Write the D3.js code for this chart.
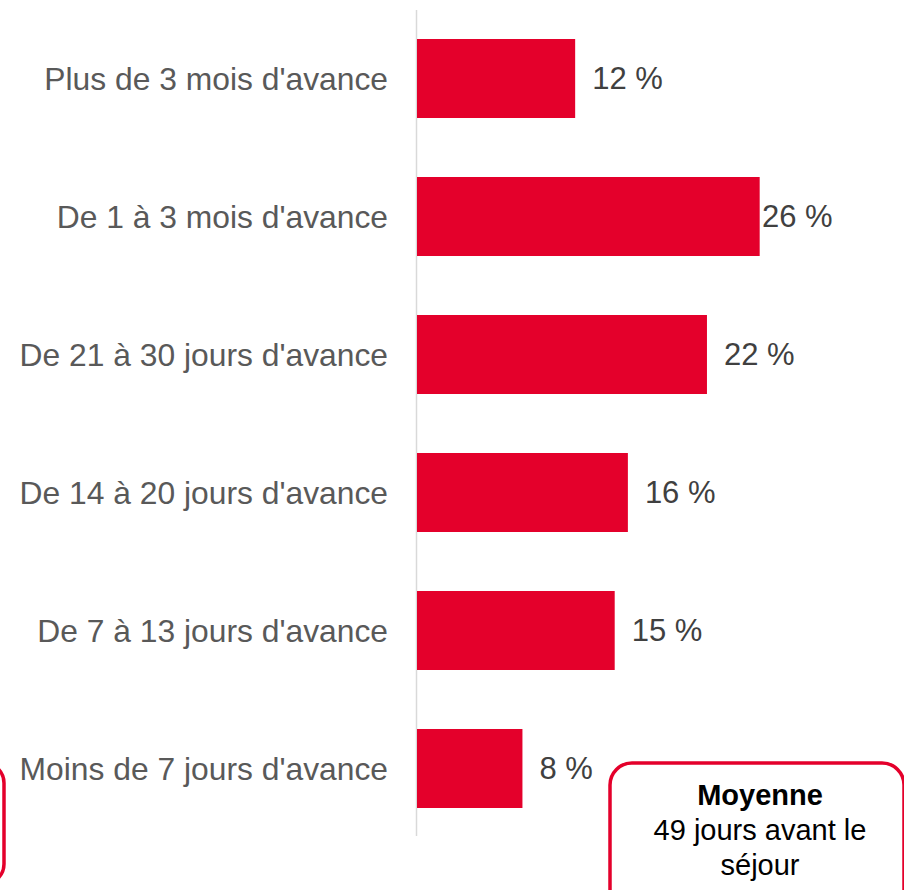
<!DOCTYPE html>
<html>
<head>
<meta charset="utf-8">
<script src="https://cdn.jsdelivr.net/npm/d3@7"></script>
<style>
  body { margin: 0; background: #fff; }
  svg { display: block; font-family: "Liberation Sans", Arial, sans-serif; }
</style>
</head>
<body>
<div id="chart"></div>
<script>
const categories = [
  "Plus de 3 mois d'avance",
  "De 1 à 3 mois d'avance",
  "De 21 à 30 jours d'avance",
  "De 14 à 20 jours d'avance",
  "De 7 à 13 jours d'avance",
  "Moins de 7 jours d'avance"
];
const values = [12, 26, 22, 16, 15, 8];
const noteTitle = "Moyenne";
const noteLines = ["49 jours avant le", "séjour"];

const width = 904, height = 890;
const red = "#e4002b";

const svg = d3.select("#chart")
  .append("svg")
  .attr("width", width)
  .attr("height", height);

const x = d3.scaleLinear().domain([0, 1]).range([417, 417 + 1318]);
const y = d3.scaleBand()
  .domain(categories)
  .range([39, 808])
  .paddingInner(0.4275)
  .paddingOuter(0);

// axis line
svg.append("line")
  .attr("x1", 416.5).attr("x2", 416.5)
  .attr("y1", 10).attr("y2", 836)
  .attr("stroke", "#d9d9d9")
  .attr("stroke-width", 1.5);

// bars
svg.selectAll("rect.bar")
  .data(values)
  .enter()
  .append("rect")
  .attr("class", "bar")
  .attr("x", x(0))
  .attr("y", (d, i) => y(categories[i]))
  .attr("width", d => x(d / 100) - x(0))
  .attr("height", y.bandwidth())
  .attr("fill", red);

// category labels
svg.selectAll("text.cat")
  .data(categories)
  .enter()
  .append("text")
  .attr("class", "cat")
  .text(d => d)
  .attr("x", 388)
  .attr("y", d => y(d) + y.bandwidth() / 2)
  .attr("dy", "0.35em")
  .attr("text-anchor", "end")
  .style("font-size", "31.8px")
  .style("fill", "#595959");

// value labels (after bar end, pushed back inside the plot right edge)
svg.selectAll("text.val")
  .data(values)
  .enter()
  .append("text")
  .attr("class", "val")
  .text(d => d + " %")
  .attr("x", d => Math.min(x(d / 100) + 17, 762))
  .attr("y", (d, i) => y(categories[i]) + y.bandwidth() / 2)
  .attr("dy", "0.35em")
  .attr("text-anchor", "start")
  .style("font-size", "31px")
  .style("fill", "#404040");

// left partial box
svg.append("rect")
  .attr("x", -200).attr("y", 763)
  .attr("width", 204).attr("height", 121)
  .attr("rx", 20)
  .attr("fill", "none")
  .attr("stroke", red)
  .attr("stroke-width", 3.5);

// average box
const note = svg.append("g");
note.append("rect")
  .attr("x", 610).attr("y", 763)
  .attr("width", 294).attr("height", 150)
  .attr("rx", 22)
  .attr("fill", "#fff")
  .attr("stroke", red)
  .attr("stroke-width", 3.5);

note.append("text")
  .text(noteTitle)
  .attr("x", 760).attr("y", 805)
  .attr("text-anchor", "middle")
  .style("font-size", "29px")
  .style("font-weight", "bold")
  .style("fill", "#000");

noteLines.forEach((t, i) => {
  note.append("text")
    .text(t)
    .attr("x", 760).attr("y", 840 + i * 35)
    .attr("text-anchor", "middle")
    .style("font-size", "29px")
    .style("fill", "#000");
});
</script>
</body>
</html>
